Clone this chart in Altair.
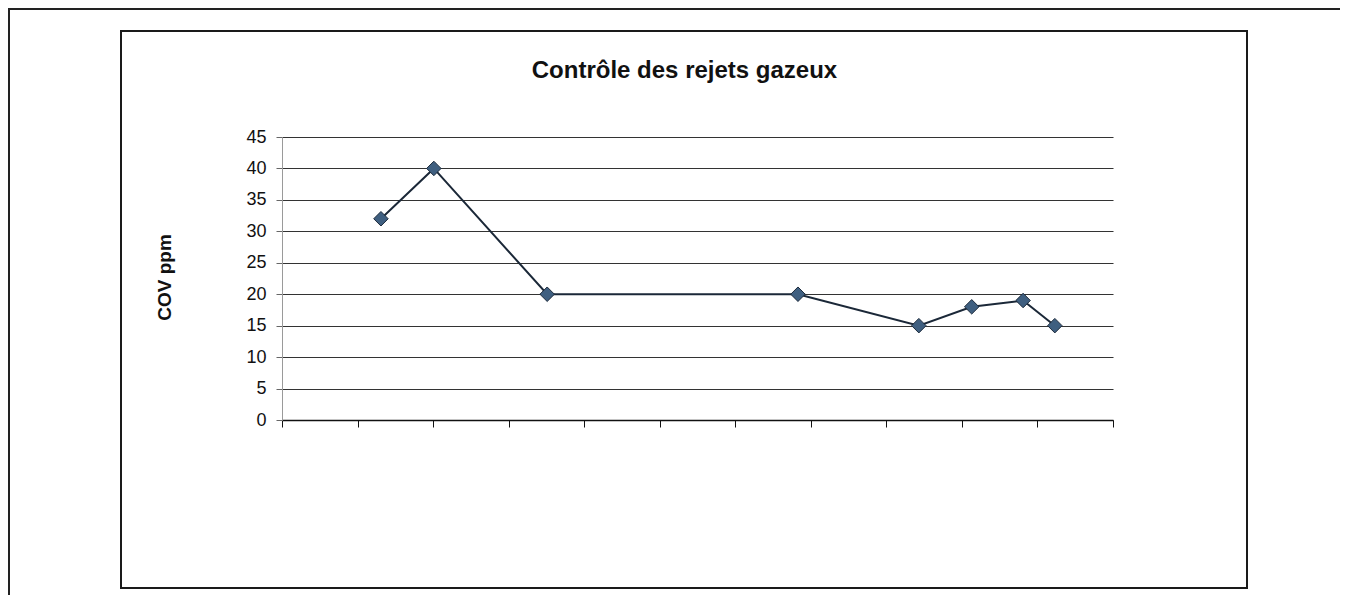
import altair as alt
import pandas as pd

# Data (x in tick-interval units along the time axis)
x_pos = [1.31, 2.01, 3.51, 6.83, 8.43, 9.13, 9.81, 10.23]
cov_ppm = [32, 40, 20, 20, 15, 18, 19, 15]
y_ticks = [0, 5, 10, 15, 20, 25, 30, 35, 40, 45]
x_ticks = list(range(0, 12))

df = pd.DataFrame({"x": x_pos, "cov": cov_ppm})

FONT = "Liberation Sans"

x_axis = alt.Axis(
    values=x_ticks, labels=False, title=None, grid=False,
    domainColor="#111", domainWidth=1.5, tickColor="#111",
    tickSize=7, tickWidth=1,
)
y_axis = alt.Axis(
    values=y_ticks, title="COV ppm", grid=True, gridColor="#333",
    gridWidth=1.2, domainColor="#9a9a9a", domainWidth=1,
    tickColor="#666", tickSize=6, labelFontSize=18, labelFont=FONT,
    labelColor="#111", labelPadding=10, labelOverlap=False,
    titleFont=FONT, titleFontSize=19, titleFontWeight="bold",
    titleColor="#111", titleX=-112, titleY=140,
    titleBaseline="alphabetic", titleAlign="center", titleAngle=270,
)
x_scale = alt.Scale(domain=[0, 11], nice=False, zero=False)
y_scale = alt.Scale(domain=[0, 45], nice=False)

base = alt.Chart(df)
line = base.mark_line(color="#1b2838", strokeWidth=2).encode(
    x=alt.X("x:Q", scale=x_scale, axis=x_axis),
    y=alt.Y("cov:Q", scale=y_scale, axis=y_axis),
)
points = base.mark_point(
    shape="diamond", filled=True, size=210, fill="#3f5f80",
    stroke="#1d2b3c", strokeWidth=1, opacity=1,
).encode(
    x=alt.X("x:Q", scale=x_scale, axis=x_axis),
    y=alt.Y("cov:Q", scale=y_scale, axis=y_axis),
)

decor_data = alt.Data(values=[{"k": 0}])
inner_box = alt.Chart(decor_data).mark_rect(
    fillOpacity=0, stroke="#1a1a1a", strokeWidth=2, clip=False
).encode(
    x=alt.value(-161), x2=alt.value(965), y=alt.value(-106), y2=alt.value(451)
)
outer_top = alt.Chart(decor_data).mark_rule(
    color="#222", strokeWidth=2, clip=False
).encode(x=alt.value(-274), x2=alt.value(1060), y=alt.value(-128))
outer_left = alt.Chart(decor_data).mark_rule(
    color="#222", strokeWidth=2, clip=False
).encode(x=alt.value(-273), y=alt.value(-128), y2=alt.value(470))

chart = alt.layer(line, points, inner_box, outer_top, outer_left).properties(
    width=831,
    height=283,
    autosize=alt.AutoSizeParams(type="none"),
    padding={"left": 274, "top": 129, "right": 227, "bottom": 175},
    background="white",
    title=alt.TitleParams(
        "Contrôle des rejets gazeux", font=FONT, fontSize=24,
        fontWeight="bold", color="#111", anchor="middle", dx=-13,
        offset=0, dy=94, baseline="alphabetic",
    ),
).configure_view(stroke=None)

chart.save("out.html", embed_options={"renderer": "svg", "actions": False})
